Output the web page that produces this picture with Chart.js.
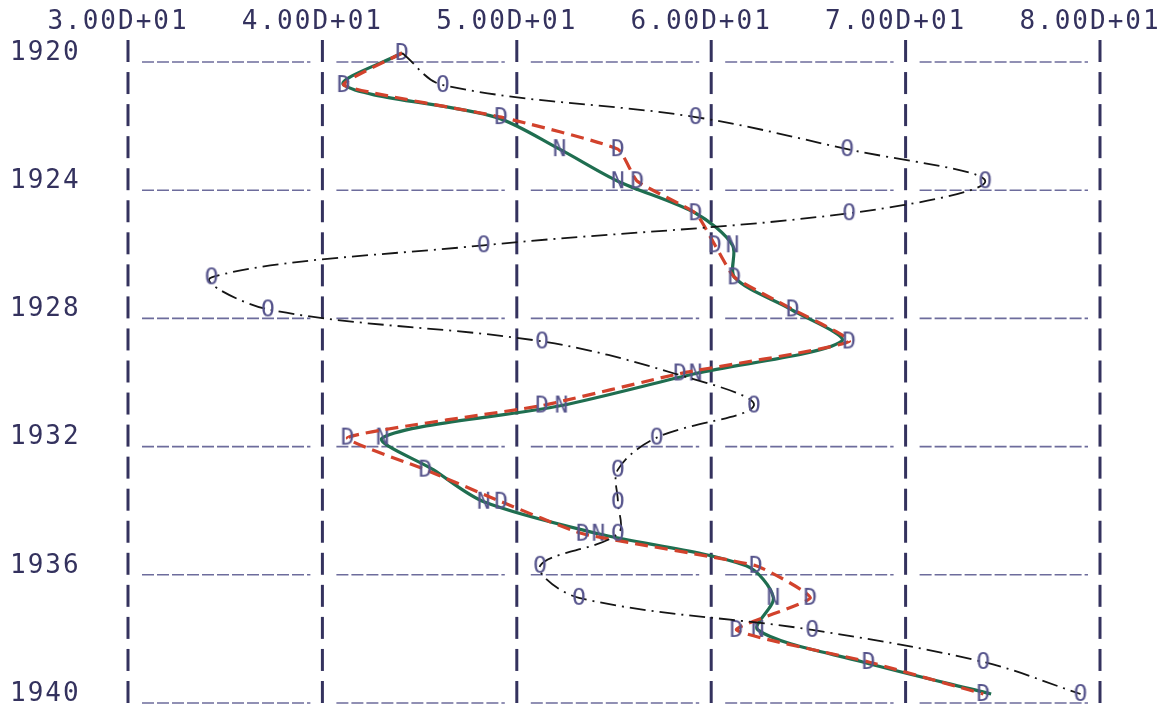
<!DOCTYPE html>
<html>
<head>
<meta charset="utf-8">
<script src="https://cdn.jsdelivr.net/npm/chart.js@4/dist/chart.umd.min.js"></script>
<style>
  html, body { margin: 0; padding: 0; background: #ffffff; }
  #wrap { width: 1173px; height: 711px; position: relative; }
</style>
</head>
<body>
<div id="wrap"><canvas id="c" width="1173" height="711"></canvas></div>
<script>
// ---- data ----
const years = [1920, 1921, 1922, 1923, 1924, 1925, 1926, 1927, 1928, 1929, 1930,
               1931, 1932, 1933, 1934, 1935, 1936, 1937, 1938, 1939, 1940];
// series printed with "O" (black dash-dot line)
const seriesO = [44.1, 46.2, 59.2, 67.0, 74.1, 67.1, 48.3, 34.3, 37.2, 51.3, 58.1,
                 62.2, 57.2, 55.2, 55.2, 55.2, 51.2, 53.2, 65.2, 74.0, 79.0];
// series printed with "D" (red dashed line)
const seriesD = [44.1, 41.1, 49.2, 55.2, 56.2, 59.2, 60.2, 61.2, 64.2, 67.1, 58.4,
                 51.3, 41.3, 45.3, 49.2, 53.4, 62.3, 65.1, 61.3, 68.1, 74.0];
// series printed with "N" (green solid line)
const seriesN = [44.1, 41.1, 48.9, 52.2, 55.2, 59.2, 61.1, 61.2, 64.1, 66.7, 59.2,
                 52.3, 43.1, 45.7, 48.3, 54.2, 61.8, 63.2, 62.4, 67.8, 74.4];
const xTickValues = [30, 40, 50, 60, 70, 80];
const xTickLabels = ['3.00D+01', '4.00D+01', '5.00D+01', '6.00D+01', '7.00D+01', '8.00D+01'];
const yTickValues = [1920, 1924, 1928, 1932, 1936, 1940];

// ---- styling ----
const INK = '#34325e';
const MARK_INK = '#56548c';
const RULE_INK = '#6d6c9c';
const FONT = '"DejaVu Sans Mono", "Liberation Mono", monospace';

function glyph(ch) {
  const c = document.createElement('canvas');
  c.width = 22; c.height = 26;
  const g = c.getContext('2d');
  g.font = '23px ' + FONT;
  g.fillStyle = MARK_INK;
  g.textAlign = 'center';
  g.textBaseline = 'middle';
  g.fillText(ch, 11, 14);
  return c;
}
const glyphO = glyph('O'), glyphD = glyph('D'), glyphN = glyph('N');

const toPts = arr => years.map((y, i) => ({ x: arr[i], y: y }));

const printerGrid = {
  id: 'printerGrid',
  beforeDraw(chart) {
    chart.ctx.letterSpacing = '2px';
  },
  beforeDatasetsDraw(chart) {
    const ctx = chart.ctx;
    const xs = chart.scales.x, ys = chart.scales.y;
    ctx.save();
    ctx.letterSpacing = '0px';
    // vertical "|" bars
    ctx.strokeStyle = INK;
    ctx.lineWidth = 3;
    ctx.lineCap = 'butt';
    xTickValues.forEach(v => {
      const px = xs.getPixelForValue(v);
      years.forEach(yr => {
        const py = ys.getPixelForValue(yr);
        ctx.beginPath();
        ctx.moveTo(px, py - 13);
        ctx.lineTo(px, py + 9);
        ctx.stroke();
      });
    });
    // underscore rules
    ctx.strokeStyle = RULE_INK;
    ctx.lineWidth = 1.6;
    ctx.setLineDash([12, 3]);
    yTickValues.forEach(yr => {
      const py = ys.getPixelForValue(yr) + 9;
      for (let k = 0; k < xTickValues.length - 1; k++) {
        const a = xs.getPixelForValue(xTickValues[k]) + 14;
        const b = xs.getPixelForValue(xTickValues[k + 1]) - 12;
        ctx.beginPath();
        ctx.moveTo(a, py);
        ctx.lineTo(b, py);
        ctx.stroke();
      }
    });
    ctx.restore();
    ctx.letterSpacing = '2px';
  },
  afterDatasetsDraw(chart) {
    chart.ctx.letterSpacing = '0px';
  }
};

const near = (a, b) => Math.abs(a - b) < 0.6;

new Chart(document.getElementById('c'), {
  type: 'scatter',
  data: {
    datasets: [
      {
        label: 'O',
        data: toPts(seriesO),
        showLine: true,
        borderColor: '#151515',
        borderWidth: 1.8,
        borderDash: [16, 6, 2, 6],
        tension: 0.35,
        pointStyle: glyphO,
        pointRadius: c => near(seriesO[c.dataIndex], seriesD[c.dataIndex]) ? 0 : 3,
        clip: false
      },
      {
        label: 'D',
        data: toPts(seriesD),
        showLine: true,
        borderColor: '#d2422c',
        borderWidth: 3.2,
        borderDash: [13, 7],
        tension: 0.15,
        pointStyle: glyphD,
        pointRadius: 3,
        clip: false
      },
      {
        label: 'N',
        data: toPts(seriesN),
        showLine: true,
        borderColor: '#1f6e50',
        borderWidth: 3.2,
        tension: 0.3,
        pointStyle: glyphN,
        pointRadius: c => near(seriesN[c.dataIndex], seriesD[c.dataIndex]) ? 0 : 3,
        clip: false
      }
    ]
  },
  options: {
    responsive: false,
    animation: false,
    events: [],
    layout: { padding: { left: 10, right: 73, top: 0, bottom: 17 } },
    plugins: { legend: { display: false }, tooltip: { enabled: false } },
    scales: {
      x: {
        type: 'linear',
        position: 'top',
        min: 30, max: 80,
        afterBuildTicks: s => { s.ticks = xTickValues.map(v => ({ value: v })); },
        afterFit: s => { s.height = 53; s.paddingLeft = 0; s.paddingRight = 0; },
        grid: { display: false, drawTicks: false },
        border: { display: false },
        ticks: {
          color: INK,
          font: { family: FONT, size: 26 },
          padding: 15,
          labelOffset: -10,
          maxRotation: 0,
          autoSkip: false,
          callback: v => xTickLabels[xTickValues.indexOf(v)]
        }
      },
      y: {
        type: 'linear',
        position: 'left',
        reverse: true,
        min: 1920, max: 1940,
        afterBuildTicks: s => { s.ticks = yTickValues.map(v => ({ value: v })); },
        afterFit: s => { s.width = 118; s.paddingTop = 0; s.paddingBottom = 0; },
        grid: { display: false, drawTicks: false },
        border: { display: false },
        ticks: {
          color: INK,
          font: { family: FONT, size: 26 },
          crossAlign: 'far',
          autoSkip: false,
          callback: v => String(v)
        }
      }
    }
  },
  plugins: [printerGrid]
});
</script>
</body>
</html>
